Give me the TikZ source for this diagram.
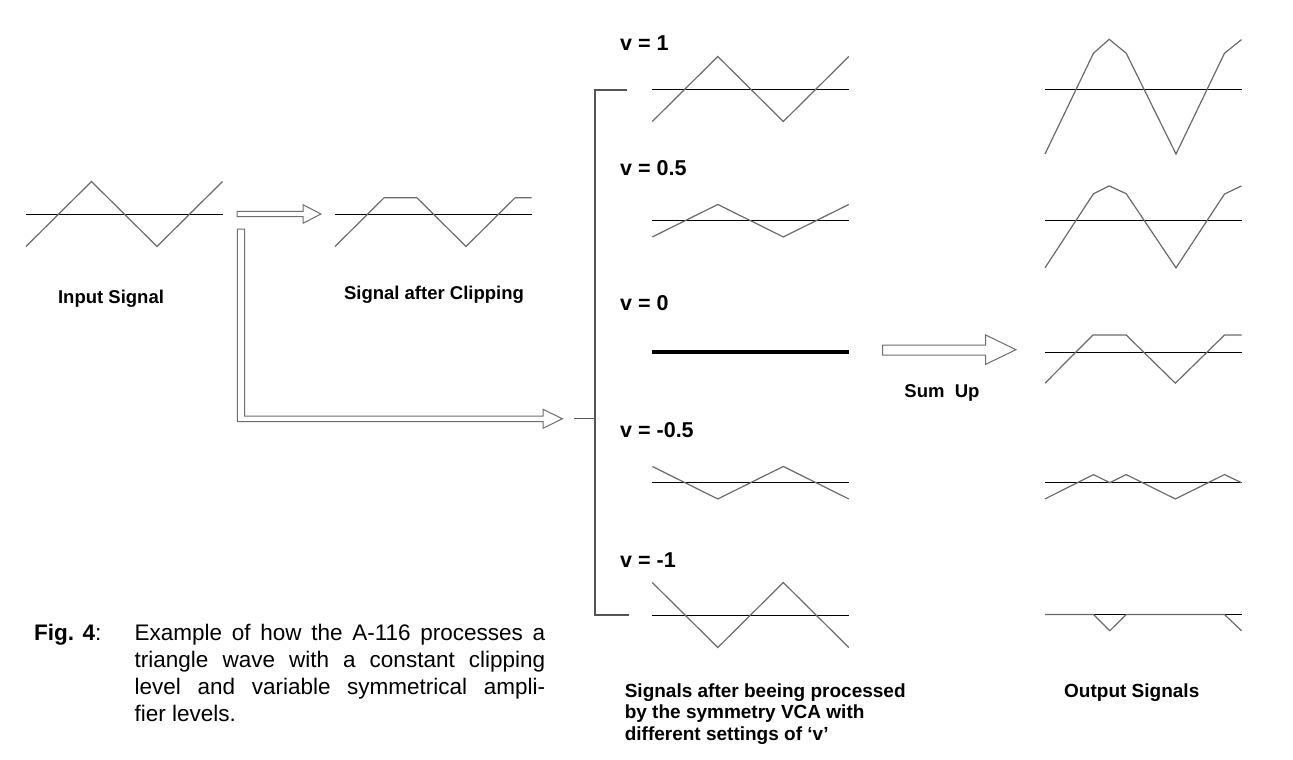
\documentclass[tikz,border=0pt]{standalone}
\usepackage{fontspec}
\setmainfont{Liberation Sans}
\definecolor{wavegray}{HTML}{6A6A6A}
\definecolor{arrowgray}{HTML}{6E6E6E}
\definecolor{brackgray}{HTML}{555555}
\newcommand\sigpanel[3]{%
  \begin{scope}[shift={(#1,#2)}, x=65.5pt, y=32.5pt]
    \draw[axisline] (0,0) -- (3,0);
    \draw[waveline] #3;
  \end{scope}}
\begin{document}
\begin{tikzpicture}[x=1pt,y=-1pt,
  axisline/.style={black, line width=1pt},
  waveline/.style={wavegray, line width=1.2pt},
  hollow/.style={arrowgray, line width=1pt, fill=white},
  brack/.style={brackgray, line width=1.2pt},
  lbl/.style={inner sep=0pt, font=\fontsize{18.5}{22}\selectfont\bfseries},
  vlbl/.style={inner sep=0pt, anchor=base west, font=\fontsize{21.5}{25}\selectfont\bfseries},
  captxt/.style={inner sep=0pt, anchor=base west, font=\fontsize{19}{21.5}\selectfont\bfseries}]
\fill[white] (0,0) rectangle (1293,760);
\useasboundingbox (0,0) rectangle (1293,760);

% input signal
\sigpanel{26}{214}{(0,-1) -- (1,1) -- (2,-1) -- (3,1)}
\node[lbl, anchor=base] (inlbl) at (111,303.3) {Input Signal};

% clipped signal
\sigpanel{335}{214}{(0,-1) -- (0.75,0.5) -- (1.25,0.5) -- (2,-1) -- (2.75,0.5) -- (3,0.5)}
\node[lbl, anchor=base] (cliplbl) at (434,299) {Signal after Clipping};

% arrow to clipping
\draw[hollow] (237,211.3) -- (303,211.3) -- (303,204.7) -- (321,214) -- (303,223.3) -- (303,216.7) -- (237,216.7) -- cycle;

% L-shaped arrow to VCA
\draw[hollow] (237.3,229) -- (237.3,421.5) -- (543,421.5) -- (543,428.3) -- (562.3,418.7) -- (543,409.3) -- (543,416) -- (244.7,416) -- (244.7,229) -- cycle;

% bracket
\coordinate (stemL) at (574,418.7);
\coordinate (stemR) at (595,418.7);
\coordinate (brTop) at (627,90);
\coordinate (brBot) at (629,615);
\draw[brack] (brTop) -- (595,90) -- (595,615) -- (brBot);
\draw[brack] (stemL) -- (stemR);

% VCA signals
\node[vlbl] (v1) at (620,51) {v = 1};
\sigpanel{652.3}{89}{(0,-1) -- (1,1) -- (2,-1) -- (3,1)}
\node[vlbl] (v05) at (620,175) {v = 0.5};
\sigpanel{652.3}{220.7}{(0,-0.5) -- (1,0.5) -- (2,-0.5) -- (3,0.5)}
\node[vlbl] (v0) at (620,310) {v = 0};
\draw[black, line width=4pt] (652.3,351.7) -- (849,351.7);
\node[vlbl] (vm05) at (620,437) {v = -0.5};
\sigpanel{652.3}{482.7}{(0,0.5) -- (1,-0.5) -- (2,0.5) -- (3,-0.5)}
\node[vlbl] (vm1) at (620,567) {v = -1};
\sigpanel{652.3}{615}{(0,1) -- (1,-1) -- (2,1) -- (3,-1)}

% sum up arrow
\draw[hollow] (882.7,345) -- (985.7,345) -- (985.7,335) -- (1016,349.7) -- (985.7,364.3) -- (985.7,355) -- (882.7,355) -- cycle;
\node[lbl, anchor=base] (sum) at (942,397.3) {Sum~~Up};

% output signals
\sigpanel{1045}{89}{(0,-2) -- (0.74,1.1) -- (0.98,1.53) -- (1.24,1.1) -- (2,-2) -- (2.74,1.1) -- (3,1.52)}
\sigpanel{1045}{220.7}{(0,-1.45) -- (0.74,0.83) -- (0.98,1.07) -- (1.24,0.83) -- (2,-1.45) -- (2.74,0.82) -- (3,1.07)}
\sigpanel{1045}{352.3}{(0,-0.95) -- (0.73,0.53) -- (1.24,0.53) -- (1.99,-0.95) -- (2.74,0.53) -- (3,0.53)}
\sigpanel{1045}{482.7}{(0,-0.5) -- (0.74,0.25) -- (0.99,0) -- (1.24,0.25) -- (1.99,-0.5) -- (2.74,0.25) -- (3,0)}
\sigpanel{1045}{614.5}{(0,0) -- (0.74,0) -- (0.99,-0.5) -- (1.24,0) -- (2.74,0) -- (3,-0.5)}

% captions
\node[captxt] (c1) at (624.6,697) {Signals after beeing processed};
\node[captxt] (c2) at (624.6,718.5) {by the symmetry VCA with};
\node[captxt] (c3) at (624.6,740) {different settings of ‘v’};
\node[captxt] (outlbl) at (1064,697) {Output Signals};

\node[inner sep=0pt, anchor=base west, font=\fontsize{22.5}{27}\selectfont] (fig) at (34,640.5) {\textbf{Fig. 4}:};
\node[inner sep=0pt, anchor=base west] (figtext) at (134.5,640.5)
  {\parbox[t]{410.5pt}{\fontsize{22.5}{27}\selectfont\tolerance=10000
   Example of how the A-116 processes a\linebreak
   triangle wave with a constant clipping\linebreak
   level and variable symmetrical ampli-\linebreak
   fier levels.}};
\end{tikzpicture}
\end{document}
